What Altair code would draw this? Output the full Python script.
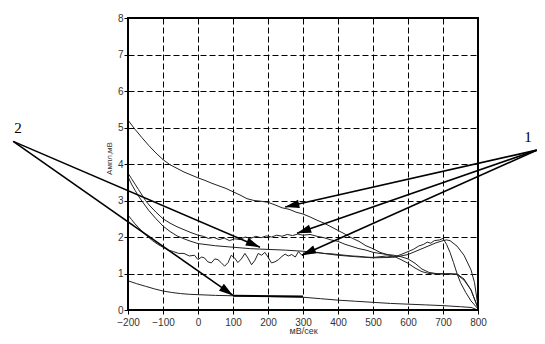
import math
import altair as alt
import pandas as pd

# ---- curves (x in мВ/сек, y in мВ) ----
a_x = [-200,-180,-160,-140,-120,-100,-80,-60,-40,-20,0,20,40,60,80,100,120,140,160,180,200,220,240,260,280,300,320,340,360,380,400,420,440,460,480,500,520,540,560,580,600,620,640,660,680,700,720,740,760,780,790,800]
a_y = [5.2,4.95,4.72,4.5,4.3,4.12,3.98,3.88,3.78,3.7,3.62,3.55,3.47,3.4,3.33,3.24,3.15,3.05,3.0,2.98,2.95,2.88,2.8,2.76,2.68,2.63,2.55,2.46,2.38,2.28,2.18,2.08,1.97,1.88,1.76,1.68,1.58,1.52,1.47,1.38,1.28,1.15,1.05,1.0,0.99,1.0,0.98,0.99,0.85,0.55,0.3,0.05]

b_x = [-200,-190,-180,-170,-160,-150,-140,-120,-100,-80,-60,-40,-20,0,15,30,45,60,75,90,105,120,135,150,165,180,195,210,225,240,255,270,285,300,320,340,360,380,400,420,440,460,480,500,520,540,560,580,600,620,640,660,680,700,720,740,760,780,790,800]
b_y = [3.75,3.6,3.45,3.3,3.15,3.0,2.88,2.68,2.5,2.38,2.28,2.2,2.12,2.05,2.02,1.96,1.99,1.93,1.97,1.9,1.95,1.93,2.0,1.96,2.02,1.98,2.03,2.0,2.05,2.02,2.07,2.04,2.08,2.05,2.07,2.02,1.98,1.92,1.88,1.8,1.74,1.68,1.64,1.58,1.55,1.52,1.5,1.46,1.4,1.28,1.12,1.03,1.0,0.98,1.0,0.97,0.82,0.55,0.3,0.05]

c_x = [-200,-190,-180,-170,-160,-150,-140,-120,-100,-80,-60,-40,-20,0,50,100,150,200,250,300,350,400,450,500,550,580,600,620,640,660,680,700,710,720,740,760,780,790,800]
c_y = [3.65,3.45,3.28,3.12,2.98,2.85,2.72,2.5,2.3,2.15,2.03,1.95,1.88,1.82,1.76,1.72,1.68,1.66,1.64,1.61,1.56,1.5,1.46,1.43,1.44,1.48,1.52,1.6,1.68,1.76,1.84,1.9,1.92,1.9,1.75,1.5,1.1,0.75,0.1]

d_x = [-200,-190,-180,-170,-160,-145,-130,-115,-100,-85,-70,-55,-40,-25,-10,0,10,18,28,38,48,57,66,76,86,95,105,114,124,134,143,153,162,172,182,191,200,210,220,230,240,249,258,268,278,287,297,306,320,340,360,380,400,420,440,460,480,500,520,540,560,580,600,615,630,645,655,665,675,690,700,710,720,730,740,750,765,780,800]
d_y = [2.6,2.48,2.36,2.26,2.15,2.02,1.9,1.8,1.72,1.64,1.6,1.55,1.55,1.48,1.5,1.38,1.45,1.43,1.32,1.29,1.4,1.38,1.3,1.2,1.3,1.5,1.42,1.3,1.4,1.55,1.42,1.24,1.35,1.55,1.5,1.58,1.45,1.29,1.32,1.38,1.47,1.53,1.48,1.52,1.45,1.6,1.5,1.58,1.56,1.58,1.55,1.54,1.52,1.5,1.48,1.47,1.45,1.44,1.46,1.48,1.45,1.52,1.6,1.66,1.75,1.8,1.86,1.83,1.9,1.92,1.96,1.8,1.58,1.3,1.0,0.75,0.48,0.25,0.03]

e_x = [-200,-175,-150,-125,-100,-75,-50,-25,0,50,100,150,200,250,300,350,400,450,500,550,600,650,700,750,780,800]
e_y = [0.8,0.72,0.65,0.58,0.52,0.48,0.45,0.43,0.42,0.4,0.39,0.38,0.37,0.36,0.35,0.31,0.27,0.24,0.21,0.18,0.16,0.14,0.12,0.09,0.07,0.0]

# ---- annotations ----
arrow_from = ["2", "2", "1", "1", "1"]
arrow_x0 = [-528, -528, 968, 968, 968]
arrow_y0 = [4.62, 4.62, 4.38, 4.38, 4.38]
arrow_x1 = [177, 100, 249, 283, 297]
arrow_y1 = [1.72, 0.40, 2.82, 2.10, 1.50]

underline_x = [100, 300]
underline_y = [0.39, 0.37]

label_text = ["2", "1"]
label_x = [-514, 943]
label_y = [5.0, 4.73]

x_ticks = list(range(-200, 801, 100))
y_ticks = list(range(0, 9))

W, H = 350, 292
PX_X = W / 1000.0
PX_Y = H / 8.0

rows = []
for name, xs_, ys_ in [("A", a_x, a_y), ("B", b_x, b_y), ("C", c_x, c_y), ("D", d_x, d_y), ("E", e_x, e_y)]:
    for i, (xv, yv) in enumerate(zip(xs_, ys_)):
        rows.append({"series": name, "i": i, "x": xv, "y": yv})
curves = pd.DataFrame(rows)

arrows = pd.DataFrame({"g": arrow_from, "x0": arrow_x0, "y0": arrow_y0, "x1": arrow_x1, "y1": arrow_y1})
angles = []
for x0, y0, x1, y1 in zip(arrow_x0, arrow_y0, arrow_x1, arrow_y1):
    dx = (x1 - x0) * PX_X
    dy = -(y1 - y0) * PX_Y
    angles.append(math.degrees(math.atan2(dx, -dy)) % 360)
arrows["angle"] = angles

under = pd.DataFrame({"x": underline_x, "y": underline_y})
labels = pd.DataFrame({"t": label_text, "x": label_x, "y": label_y})

xs = alt.Scale(domain=[-200, 800], nice=False, zero=False)
ys = alt.Scale(domain=[0, 8], nice=False, zero=False)

x_axis = alt.Axis(values=x_ticks, grid=True, gridDash=[6, 3], gridColor="black", gridWidth=1,
                  gridOpacity=1, domain=False, tickColor="black", tickSize=4, labelPadding=3,
                  labelOverlap=False, labelFlush=False,
                  labelFont="Liberation Sans", labelFontSize=10, labelColor="#333",
                  title="мВ/сек", titleFont="Liberation Sans", titleFontSize=9,
                  titleFontWeight="normal", titleColor="#333", titleY=23.5,
                  titleBaseline="alphabetic")
y_axis = alt.Axis(values=y_ticks, grid=True, gridDash=[6, 3], gridColor="black", gridWidth=1,
                  gridOpacity=1, domain=False, tickColor="black", tickSize=4, labelPadding=1,
                  labelOverlap=False, labelFlush=False,
                  labelFont="Liberation Sans", labelFontSize=10, labelColor="#333",
                  title="Ампл,мВ", titleFont="Liberation Sans", titleFontSize=8,
                  titleFontWeight="normal", titleColor="#333", titleX=-15, titleY=140,
                  titleBaseline="bottom")


def X(field):
    return alt.X(field, scale=xs, axis=x_axis)


def Y(field):
    return alt.Y(field, scale=ys, axis=y_axis)


lines = alt.Chart(curves).mark_line(color="#222", strokeWidth=1).encode(
    x=X("x:Q"), y=Y("y:Q"), detail="series:N", order="i:Q",
)

frame = alt.Chart(labels).mark_rect(fill=None, stroke="black", strokeWidth=2).encode(
    x=alt.value(0), x2=alt.value(W), y=alt.value(0), y2=alt.value(H),
)

arrow_lines = alt.Chart(arrows).mark_rule(color="black", strokeWidth=1.6, clip=False).encode(
    x=X("x0:Q"), y=Y("y0:Q"), x2="x1:Q", y2="y1:Q",
)

heads = alt.Chart(arrows).mark_point(shape="M0,0L-0.3,1L0.3,1Z", filled=True, color="black",
                                     opacity=1, size=800, clip=False).encode(
    x=X("x1:Q"), y=Y("y1:Q"), angle=alt.Angle("angle:Q", scale=None),
)

under_line = alt.Chart(under).mark_line(color="black", strokeWidth=2).encode(
    x=X("x:Q"), y=Y("y:Q"),
)

text = alt.Chart(labels).mark_text(font="Liberation Serif", fontSize=15, color="black",
                                   clip=False).encode(
    x=X("x:Q"), y=Y("y:Q"), text="t:N",
)

chart = alt.layer(lines, under_line, arrow_lines, heads, text, frame).properties(
    width=W, height=H,
    padding={"left": 120, "top": 10, "right": 59, "bottom": 26},
    autosize=alt.AutoSizeParams(type="none"),
).configure_view(stroke="black", strokeWidth=2).configure(background="white")

chart.save("out.html", embed_options={"renderer": "svg", "actions": False})
